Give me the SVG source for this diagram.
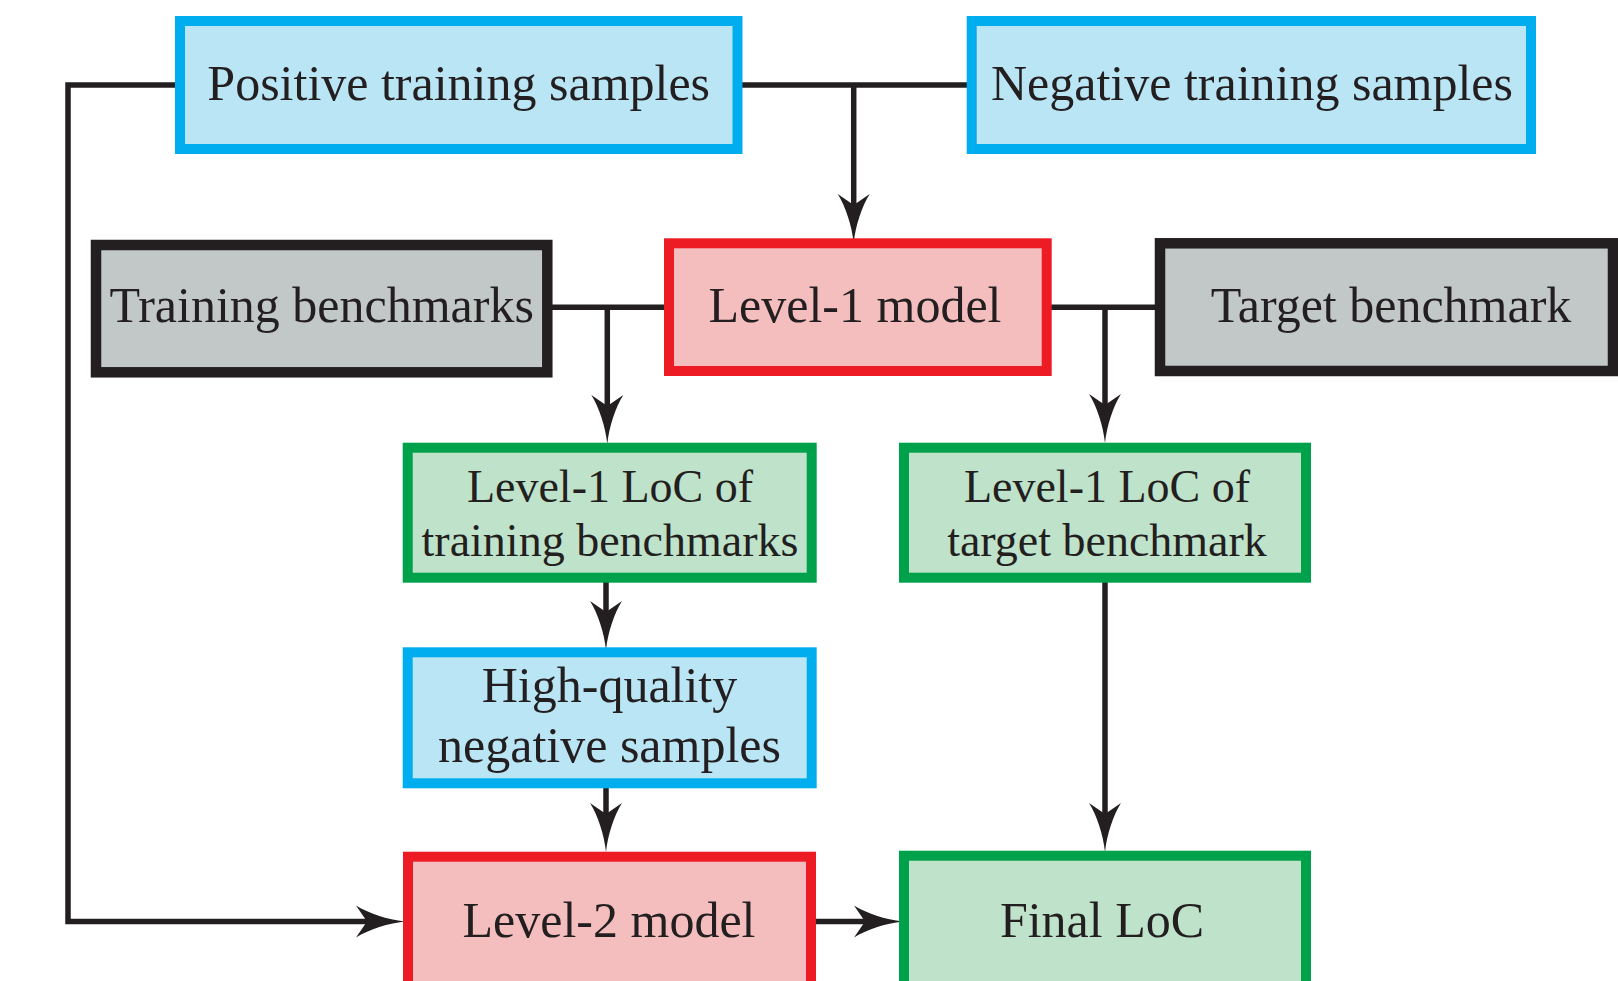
<svg xmlns="http://www.w3.org/2000/svg" width="1618" height="981" viewBox="0 0 1618 981">
<style>
.box{stroke-width:10}
.cyan{fill:#B9E5F5;stroke:#00AEEF}
.red{fill:#F5BEBE;stroke:#ED1C24}
.green{fill:#BFE2CA;stroke:#00A14B}
.gray{fill:#C2C8C8;stroke:#231F20;stroke-width:10.5}
text{font-family:"Liberation Serif","Times New Roman",serif;fill:#231F20;text-anchor:middle}
.t50{font-size:50px}
.t46{font-size:46px}
.conn path{fill:none;stroke:#231F20;stroke-width:5.5}
</style>
<defs>
<marker id="arr" viewBox="-50 -17 51 34" markerWidth="51" markerHeight="34" refX="-38" refY="0" markerUnits="userSpaceOnUse" orient="auto" overflow="visible">
<path d="M0,0 C-18,-2 -36,-8 -49,-16 L-38,0 L-49,16 C-36,8 -18,2 0,0 Z" fill="#231F20"/>
</marker>
</defs>
<rect width="1618" height="981" fill="#FFFFFF"/>
<g class="conn">
<path d="M175,85 H68 V921.5 H367" marker-end="url(#arr)"/>
<path d="M742,85 H967"/>
<path d="M853.7,85 V205" marker-end="url(#arr)"/>
<path d="M552,307.3 H664"/>
<path d="M607.3,307.3 V406" marker-end="url(#arr)"/>
<path d="M1051,307.3 H1155"/>
<path d="M1105,307.3 V405" marker-end="url(#arr)"/>
<path d="M606,578 V612" marker-end="url(#arr)"/>
<path d="M606,782 V814" marker-end="url(#arr)"/>
<path d="M1105,580 V814" marker-end="url(#arr)"/>
<path d="M816,921.5 H865" marker-end="url(#arr)"/>
</g>
<g id="positive">
<rect class="box cyan" x="180" y="21" width="557.5" height="128"/>
<text class="t50" x="458.7" y="100">Positive training samples</text>
</g>
<g id="negative">
<rect class="box cyan" x="971.7" y="21" width="559.3" height="128"/>
<text class="t50" x="1252" y="100">Negative training samples</text>
</g>
<g id="training">
<rect class="box gray" x="96" y="245" width="451.3" height="127.3"/>
<text class="t50" x="321.7" y="322">Training benchmarks</text>
</g>
<g id="level1">
<rect class="box red" x="669" y="243.3" width="377.7" height="127.7"/>
<text class="t50" x="855" y="322">Level-1 model</text>
</g>
<g id="target">
<rect class="box gray" x="1160" y="243.3" width="453" height="127.7"/>
<text class="t50" x="1391" y="322">Target benchmark</text>
</g>
<g id="loc-train">
<rect class="box green" x="407.7" y="447.7" width="404" height="130"/>
<text class="t46" x="610" y="501.7">Level-1 LoC of</text>
<text class="t46" x="610" y="556">training benchmarks</text>
</g>
<g id="loc-target">
<rect class="box green" x="904" y="447.7" width="402" height="130"/>
<text class="t46" x="1107" y="501.7">Level-1 LoC of</text>
<text class="t46" x="1107" y="556">target benchmark</text>
</g>
<g id="hq">
<rect class="box cyan" x="407.7" y="652.3" width="404" height="131"/>
<text class="t50" x="609.5" y="701.7">High-quality</text>
<text class="t50" x="609.5" y="761.7">negative samples</text>
</g>
<g id="level2">
<rect class="box red" x="408" y="856.7" width="403" height="140"/>
<text class="t50" x="609" y="937">Level-2 model</text>
</g>
<g id="final">
<rect class="box green" x="904" y="855.7" width="402" height="140"/>
<text class="t50" x="1102" y="937">Final LoC</text>
</g>
</svg>
